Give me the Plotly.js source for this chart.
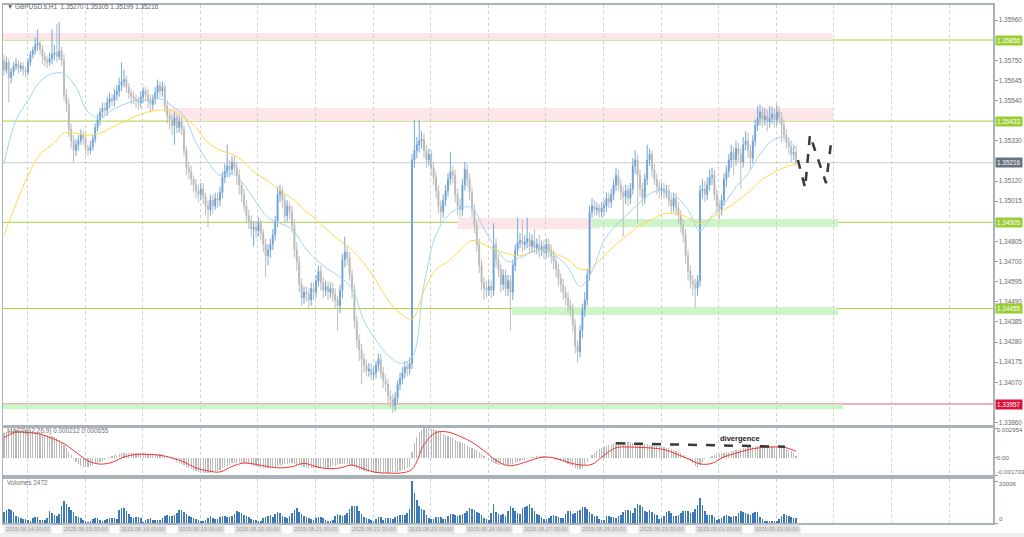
<!DOCTYPE html>
<html><head><meta charset="utf-8">
<script src="https://cdn.plot.ly/plotly-3.0.1.min.js"></script>
<style>html,body{margin:0;padding:0;background:#fff;}#chart{width:1024px;height:537px;}</style>
</head><body><div id="chart"></div>
<script>
const chartTitle = "\u25BC GBPUSD.s,H1  1.35270 1.35305 1.35199 1.35216";
const macdLabel = "MACD(12,26,9) 0.000212 0.000655";
const volumeLabel = "Volumes 2472";

const open = [
1.3575,1.3570,1.3574,1.3566,1.3569,1.3572,1.3573,1.3571,1.3572,1.3570,
1.3569,1.3574,1.3578,1.3580,1.3583,1.3584,1.3581,1.3577,1.3575,1.3574,
1.3576,1.3578,1.3579,1.3577,1.3580,1.3575,1.3557,1.3552,1.3539,1.3533,
1.3528,1.3531,1.3533,1.3536,1.3534,1.3529,1.3528,1.3530,1.3534,1.3540,
1.3544,1.3548,1.3550,1.3549,1.3553,1.3555,1.3554,1.3557,1.3559,1.3562,
1.3564,1.3565,1.3561,1.3558,1.3556,1.3555,1.3554,1.3553,1.3556,1.3559,
1.3557,1.3554,1.3552,1.3555,1.3558,1.3562,1.3559,1.3561,1.3551,1.3546,
1.3544,1.3541,1.3545,1.3540,1.3543,1.3539,1.3528,1.3519,1.3517,1.3513,
1.3510,1.3507,1.3505,1.3508,1.3504,1.3499,1.3497,1.3502,1.3499,1.3503,
1.3502,1.3506,1.3514,1.3517,1.3520,1.3518,1.3522,1.3519,1.3515,1.3510,
1.3505,1.3499,1.3494,1.3491,1.3487,1.3488,1.3486,1.3490,1.3485,1.3479,
1.3473,1.3476,1.3479,1.3484,1.3491,1.3505,1.3507,1.3502,1.3494,1.3499,
1.3496,1.3489,1.3476,1.3470,1.3458,1.3451,1.3454,1.3453,1.3450,1.3456,
1.3454,1.3460,1.3465,1.3459,1.3455,1.3457,1.3454,1.3456,1.3453,1.3450,
1.3447,1.3455,1.3471,1.3475,1.3472,1.3463,1.3455,1.3439,1.3429,1.3424,
1.3419,1.3416,1.3413,1.3414,1.3411,1.3412,1.3416,1.3419,1.3412,1.3408,
1.3406,1.3400,1.3398,1.3395,1.3399,1.3406,1.3409,1.3412,1.3415,1.3414,
1.3417,1.3523,1.3528,1.3531,1.3533,1.3534,1.3528,1.3523,1.3526,1.3519,
1.3514,1.3507,1.3499,1.3496,1.3502,1.3507,1.3513,1.3517,1.3515,1.3505,
1.3499,1.3497,1.3510,1.3518,1.3513,1.3506,1.3497,1.3489,1.3479,1.3468,
1.3459,1.3456,1.3455,1.3457,1.3455,1.3479,1.3471,1.3466,1.3458,1.3463,
1.3456,1.3460,1.3454,1.3468,1.3476,1.3480,1.3481,1.3479,1.3480,1.3482,
1.3478,1.3481,1.3477,1.3479,1.3476,1.3478,1.3475,1.3479,1.3476,1.3473,
1.3470,1.3466,1.3461,1.3458,1.3454,1.3451,1.3447,1.3445,1.3437,1.3426,
1.3423,1.3434,1.3445,1.3450,1.3463,1.3496,1.3499,1.3497,1.3498,1.3496,
1.3498,1.3499,1.3503,1.3501,1.3505,1.3510,1.3515,1.3510,1.3506,1.3504,
1.3507,1.3503,1.3508,1.3520,1.3523,1.3515,1.3508,1.3503,1.3513,1.3523,
1.3526,1.3518,1.3513,1.3509,1.3507,1.3508,1.3506,1.3507,1.3502,1.3499,
1.3503,1.3498,1.3494,1.3489,1.3484,1.3473,1.3465,1.3460,1.3458,1.3456,
1.3460,1.3507,1.3508,1.3505,1.3510,1.3514,1.3515,1.3505,1.3499,1.3497,
1.3502,1.3513,1.3517,1.3523,1.3527,1.3523,1.3529,1.3526,1.3522,1.3531,
1.3533,1.3528,1.3524,1.3533,1.3541,1.3545,1.3548,1.3544,1.3546,1.3543,
1.3545,1.3547,1.3544,1.3548,1.3545,1.3541,1.3536,1.3532,1.3530,1.3526,
1.35270];

const high = [
1.3578,1.3577,1.3576,1.3571,1.3574,1.3576,1.3575,1.3574,1.3574,1.3572,
1.3576,1.3580,1.3582,1.3587,1.3591,1.3585,1.3583,1.3579,1.3577,1.3579,
1.3591,1.3583,1.3594,1.3595,1.3582,1.3578,1.3560,1.3555,1.3542,1.3536,
1.3534,1.3536,1.3539,1.3538,1.3536,1.3531,1.3533,1.3536,1.3542,1.3547,
1.3550,1.3553,1.3553,1.3556,1.3558,1.3557,1.3560,1.3562,1.3566,1.3574,
1.3570,1.3567,1.3563,1.3560,1.3559,1.3557,1.3556,1.3559,1.3561,1.3561,
1.3560,1.3557,1.3557,1.3561,1.3565,1.3564,1.3564,1.3563,1.3554,1.3549,
1.3547,1.3548,1.3547,1.3546,1.3545,1.3541,1.3530,1.3522,1.3520,1.3515,
1.3513,1.3510,1.3511,1.3511,1.3506,1.3502,1.3505,1.3505,1.3506,1.3506,
1.3509,1.3517,1.3521,1.3531,1.3523,1.3525,1.3525,1.3522,1.3518,1.3512,
1.3508,1.3502,1.3497,1.3494,1.3491,1.3491,1.3493,1.3492,1.3487,1.3482,
1.3479,1.3482,1.3487,1.3494,1.3509,1.3510,1.3509,1.3505,1.3502,1.3501,
1.3499,1.3492,1.3480,1.3473,1.3461,1.3457,1.3457,1.3456,1.3459,1.3459,
1.3463,1.3468,1.3468,1.3462,1.3460,1.3460,1.3459,1.3459,1.3456,1.3452,
1.3458,1.3474,1.3483,1.3478,1.3475,1.3466,1.3458,1.3442,1.3432,1.3427,
1.3422,1.3419,1.3417,1.3417,1.3415,1.3418,1.3422,1.3422,1.3415,1.3411,
1.3409,1.3403,1.3401,1.3402,1.3408,1.3412,1.3415,1.3418,1.3418,1.3420,
1.3526,1.3544,1.3535,1.3544,1.3538,1.3537,1.3531,1.3529,1.3528,1.3522,
1.3517,1.3510,1.3502,1.3505,1.3510,1.3516,1.3527,1.3520,1.3518,1.3508,
1.3503,1.3513,1.3522,1.3521,1.3516,1.3509,1.3500,1.3492,1.3482,1.3471,
1.3462,1.3460,1.3461,1.3460,1.3490,1.3482,1.3474,1.3469,1.3466,1.3466,
1.3463,1.3463,1.3471,1.3479,1.3493,1.3485,1.3492,1.3484,1.3493,1.3485,
1.3484,1.3487,1.3482,1.3484,1.3481,1.3481,1.3482,1.3482,1.3479,1.3476,
1.3473,1.3469,1.3464,1.3461,1.3457,1.3454,1.3450,1.3448,1.3440,1.3429,
1.3437,1.3448,1.3454,1.3466,1.3499,1.3503,1.3502,1.3501,1.3500,1.3501,
1.3502,1.3506,1.3506,1.3508,1.3513,1.3519,1.3518,1.3513,1.3509,1.3510,
1.3510,1.3511,1.3524,1.3528,1.3526,1.3518,1.3511,1.3516,1.3531,1.3529,
1.3528,1.3521,1.3516,1.3512,1.3511,1.3511,1.3510,1.3510,1.3505,1.3506,
1.3506,1.3501,1.3497,1.3492,1.3487,1.3476,1.3468,1.3463,1.3461,1.3463,
1.3510,1.3513,1.3512,1.3514,1.3518,1.3519,1.3518,1.3508,1.3502,1.3505,
1.3516,1.3520,1.3526,1.3531,1.3530,1.3533,1.3532,1.3529,1.3535,1.3538,
1.3537,1.3531,1.3536,1.3544,1.3551,1.3552,1.3551,1.3550,1.3549,1.3551,
1.3551,1.3550,1.3552,1.3551,1.3548,1.3544,1.3539,1.3535,1.3533,1.3530,
1.35305];

const low = [
1.3567,1.3568,1.3553,1.3563,1.3567,1.3570,1.3568,1.3569,1.3567,1.3566,
1.3567,1.3572,1.3576,1.3578,1.3580,1.3578,1.3573,1.3572,1.3571,1.3572,
1.3573,1.3575,1.3574,1.3575,1.3572,1.3554,1.3548,1.3535,1.3529,1.3522,
1.3525,1.3528,1.3531,1.3531,1.3526,1.3525,1.3526,1.3528,1.3532,1.3538,
1.3541,1.3545,1.3546,1.3546,1.3550,1.3551,1.3551,1.3554,1.3556,1.3559,
1.3561,1.3558,1.3555,1.3552,1.3552,1.3550,1.3549,1.3550,1.3553,1.3554,
1.3550,1.3548,1.3549,1.3552,1.3555,1.3556,1.3556,1.3548,1.3542,1.3539,
1.3536,1.3531,1.3537,1.3537,1.3536,1.3525,1.3515,1.3513,1.3510,1.3506,
1.3503,1.3501,1.3502,1.3500,1.3494,1.3488,1.3494,1.3495,1.3497,1.3498,
1.3499,1.3503,1.3511,1.3514,1.3514,1.3515,1.3516,1.3510,1.3505,1.3501,
1.3496,1.3490,1.3487,1.3483,1.3478,1.3482,1.3483,1.3481,1.3475,1.3462,
1.3468,1.3472,1.3476,1.3481,1.3488,1.3501,1.3498,1.3490,1.3491,1.3492,
1.3485,1.3472,1.3465,1.3454,1.3447,1.3448,1.3449,1.3446,1.3447,1.3450,
1.3451,1.3457,1.3455,1.3451,1.3452,1.3450,1.3451,1.3449,1.3446,1.3434,
1.3443,1.3451,1.3467,1.3468,1.3460,1.3451,1.3435,1.3425,1.3418,1.3406,
1.3412,1.3410,1.3410,1.3408,1.3408,1.3409,1.3413,1.3409,1.3404,1.3402,
1.3396,1.3394,1.3391,1.3392,1.3396,1.3403,1.3406,1.3409,1.3410,1.3411,
1.3414,1.3519,1.3524,1.3527,1.3529,1.3524,1.3519,1.3520,1.3515,1.3510,
1.3503,1.3495,1.3490,1.3493,1.3499,1.3504,1.3510,1.3511,1.3501,1.3494,
1.3493,1.3494,1.3507,1.3509,1.3502,1.3493,1.3485,1.3475,1.3464,1.3455,
1.3450,1.3451,1.3452,1.3451,1.3452,1.3467,1.3462,1.3454,1.3455,1.3452,
1.3452,1.3434,1.3450,1.3465,1.3473,1.3477,1.3475,1.3476,1.3477,1.3474,
1.3475,1.3474,1.3474,1.3472,1.3473,1.3471,1.3472,1.3472,1.3469,1.3466,
1.3462,1.3457,1.3454,1.3450,1.3447,1.3443,1.3441,1.3433,1.3422,1.3417,
1.3420,1.3430,1.3441,1.3447,1.3460,1.3493,1.3494,1.3494,1.3493,1.3493,
1.3494,1.3496,1.3498,1.3498,1.3502,1.3507,1.3507,1.3502,1.3483,1.3500,
1.3499,1.3500,1.3505,1.3516,1.3490,1.3504,1.3499,1.3500,1.3510,1.3520,
1.3514,1.3510,1.3505,1.3503,1.3504,1.3503,1.3503,1.3499,1.3495,1.3496,
1.3494,1.3490,1.3485,1.3480,1.3469,1.3460,1.3456,1.3452,1.3446,1.3452,
1.3457,1.3503,1.3501,1.3502,1.3507,1.3510,1.3502,1.3495,1.3492,1.3494,
1.3499,1.3509,1.3514,1.3519,1.3515,1.3520,1.3522,1.3508,1.3519,1.3528,
1.3524,1.3518,1.3521,1.3530,1.3538,1.3541,1.3540,1.3541,1.3538,1.3540,
1.3542,1.3540,1.3541,1.3542,1.3532,1.3533,1.3529,1.3526,1.3522,1.3523,
1.35199];

const close = [
1.3570,1.3574,1.3566,1.3569,1.3572,1.3573,1.3571,1.3572,1.3570,1.3569,
1.3574,1.3578,1.3580,1.3583,1.3584,1.3581,1.3577,1.3575,1.3574,1.3576,
1.3578,1.3579,1.3577,1.3580,1.3575,1.3557,1.3552,1.3539,1.3533,1.3528,
1.3531,1.3533,1.3536,1.3534,1.3529,1.3528,1.3530,1.3534,1.3540,1.3544,
1.3548,1.3550,1.3549,1.3553,1.3555,1.3554,1.3557,1.3559,1.3562,1.3564,
1.3565,1.3561,1.3558,1.3556,1.3555,1.3554,1.3553,1.3556,1.3559,1.3557,
1.3554,1.3552,1.3555,1.3558,1.3562,1.3559,1.3561,1.3551,1.3546,1.3544,
1.3541,1.3545,1.3540,1.3543,1.3539,1.3528,1.3519,1.3517,1.3513,1.3510,
1.3507,1.3505,1.3508,1.3504,1.3499,1.3497,1.3502,1.3499,1.3503,1.3502,
1.3506,1.3514,1.3517,1.3520,1.3518,1.3522,1.3519,1.3515,1.3510,1.3505,
1.3499,1.3494,1.3491,1.3487,1.3488,1.3486,1.3490,1.3485,1.3479,1.3473,
1.3476,1.3479,1.3484,1.3491,1.3505,1.3507,1.3502,1.3494,1.3499,1.3496,
1.3489,1.3476,1.3470,1.3458,1.3451,1.3454,1.3453,1.3450,1.3456,1.3454,
1.3460,1.3465,1.3459,1.3455,1.3457,1.3454,1.3456,1.3453,1.3450,1.3447,
1.3455,1.3471,1.3475,1.3472,1.3463,1.3455,1.3439,1.3429,1.3424,1.3419,
1.3416,1.3413,1.3414,1.3411,1.3412,1.3416,1.3419,1.3412,1.3408,1.3406,
1.3400,1.3398,1.3395,1.3399,1.3406,1.3409,1.3412,1.3415,1.3414,1.3417,
1.3523,1.3528,1.3531,1.3533,1.3534,1.3528,1.3523,1.3526,1.3519,1.3514,
1.3507,1.3499,1.3496,1.3502,1.3507,1.3513,1.3517,1.3515,1.3505,1.3499,
1.3497,1.3510,1.3518,1.3513,1.3506,1.3497,1.3489,1.3479,1.3468,1.3459,
1.3456,1.3455,1.3457,1.3455,1.3479,1.3471,1.3466,1.3458,1.3463,1.3456,
1.3460,1.3454,1.3468,1.3476,1.3480,1.3481,1.3479,1.3480,1.3482,1.3478,
1.3481,1.3477,1.3479,1.3476,1.3478,1.3475,1.3479,1.3476,1.3473,1.3470,
1.3466,1.3461,1.3458,1.3454,1.3451,1.3447,1.3445,1.3437,1.3426,1.3423,
1.3434,1.3445,1.3450,1.3463,1.3496,1.3499,1.3497,1.3498,1.3496,1.3498,
1.3499,1.3503,1.3501,1.3505,1.3510,1.3515,1.3510,1.3506,1.3504,1.3507,
1.3503,1.3508,1.3520,1.3523,1.3515,1.3508,1.3503,1.3513,1.3523,1.3526,
1.3518,1.3513,1.3509,1.3507,1.3508,1.3506,1.3507,1.3502,1.3499,1.3503,
1.3498,1.3494,1.3489,1.3484,1.3473,1.3465,1.3460,1.3458,1.3456,1.3460,
1.3507,1.3508,1.3505,1.3510,1.3514,1.3515,1.3505,1.3499,1.3497,1.3502,
1.3513,1.3517,1.3523,1.3527,1.3523,1.3529,1.3526,1.3522,1.3531,1.3533,
1.3528,1.3524,1.3533,1.3541,1.3545,1.3548,1.3544,1.3546,1.3543,1.3545,
1.3547,1.3544,1.3548,1.3545,1.3541,1.3536,1.3532,1.3530,1.3526,1.3527,
1.35216];

const volume = [
5090,6360,6680,6360,5250,3500,2700,2230,2070,1750,
1270,950,2230,2860,2700,1590,1430,1430,2390,5570,
4770,3660,3180,4450,7950,10340,8900,7630,6360,5410,
3500,2700,2230,1590,800,640,950,1910,2230,2230,
1590,950,1270,2070,2390,2540,2540,2070,6360,7310,
7160,5720,4130,2860,2390,2700,3020,2540,480,1270,
1910,2230,1270,1430,1590,1430,2390,3180,3820,3180,
3500,3980,4770,6040,6040,5250,4130,3500,2860,2390,
1750,1270,1110,800,1430,2390,3500,2540,1910,1910,
2700,3500,3340,3020,2700,3500,4450,5570,5250,4610,
3820,3180,2700,2070,1590,1430,1110,800,2390,2860,
3500,3820,2700,4450,5410,4770,3500,2860,2540,3180,
4770,6360,7160,5090,4130,3500,2860,2230,1750,1430,
2230,2860,3020,2390,1430,950,800,1430,3500,4450,
3660,3340,3660,4770,6680,7950,8270,7950,5720,4290,
3020,2390,1910,1270,950,2070,2860,2860,1590,2230,
2540,2540,2070,2700,3180,3660,3660,3980,4770,6680,
20006,14310,10810,7950,6840,6040,3980,2540,1910,1750,
2700,3020,2860,1750,2070,3180,4130,4450,3820,3340,
3660,4290,4770,5570,7160,6680,6040,5250,4610,3660,
2540,1750,1590,4770,9220,5410,4130,3820,4130,3180,
5570,7950,7160,5880,4930,4130,7160,7790,8110,9060,
7160,5570,4450,3820,2860,2070,2070,2540,3500,3980,
3180,2700,2540,2540,4450,5570,5880,4450,4770,5570,
6360,7470,7470,6520,5410,4290,3500,3180,1910,1430,
1590,3340,3340,3020,2860,2540,3180,3980,5250,6040,
6200,5570,4770,7160,9220,8430,7630,5720,5090,6200,
5250,4290,3660,1910,2230,3180,5090,5570,4770,3500,
3340,3980,4770,5720,5880,5570,4770,5090,6680,8750,
12080,8750,5720,3660,3660,3660,2860,1590,1910,2390,
3180,3980,3340,2860,3180,3500,4770,5570,5250,4610,
4130,3820,4610,5250,5090,2860,1750,1110,950,950,
1110,1110,950,1750,3180,4290,3660,3180,2700,2540,
2472];

const macdHist = [
248e-5,255e-5,262e-5,267e-5,270e-5,272e-5,274e-5,275e-5,276e-5,276e-5,
275e-5,272e-5,266e-5,258e-5,250e-5,242e-5,236e-5,230e-5,224e-5,218e-5,
212e-5,205e-5,196e-5,180e-5,158e-5,130e-5,98e-5,62e-5,25e-5,-12e-5,
-40e-5,-62e-5,-78e-5,-88e-5,-92e-5,-90e-5,-84e-5,-76e-5,-66e-5,-55e-5,
-44e-5,-32e-5,-20e-5,-8e-5,4e-5,14e-5,24e-5,32e-5,38e-5,44e-5,
48e-5,50e-5,51e-5,51e-5,50e-5,49e-5,48e-5,47e-5,45e-5,43e-5,
41e-5,39e-5,38e-5,37e-5,36e-5,33e-5,28e-5,20e-5,10e-5,0,
-12e-5,-26e-5,-40e-5,-52e-5,-63e-5,-75e-5,-88e-5,-100e-5,-112e-5,-124e-5,
-134e-5,-142e-5,-148e-5,-152e-5,-153e-5,-152e-5,-148e-5,-142e-5,-135e-5,-127e-5,
-118e-5,-105e-5,-92e-5,-80e-5,-68e-5,-56e-5,-50e-5,-47e-5,-46e-5,-48e-5,
-52e-5,-58e-5,-64e-5,-70e-5,-78e-5,-86e-5,-93e-5,-98e-5,-101e-5,-103e-5,
-104e-5,-100e-5,-94e-5,-88e-5,-82e-5,-75e-5,-68e-5,-62e-5,-58e-5,-55e-5,
-55e-5,-60e-5,-68e-5,-76e-5,-84e-5,-90e-5,-95e-5,-99e-5,-101e-5,-102e-5,
-102e-5,-101e-5,-101e-5,-100e-5,-99e-5,-97e-5,-92e-5,-86e-5,-78e-5,-70e-5,
-62e-5,-58e-5,-60e-5,-66e-5,-74e-5,-84e-5,-95e-5,-106e-5,-116e-5,-124e-5,
-130e-5,-136e-5,-141e-5,-145e-5,-148e-5,-150e-5,-151e-5,-152e-5,-152e-5,-151e-5,
-150e-5,-148e-5,-145e-5,-141e-5,-136e-5,-130e-5,-124e-5,-116e-5,-104e-5,-90e-5,
60e-5,150e-5,210e-5,255e-5,280e-5,292e-5,295e-5,294e-5,288e-5,282e-5,
275e-5,266e-5,254e-5,240e-5,228e-5,216e-5,204e-5,192e-5,180e-5,168e-5,
157e-5,146e-5,134e-5,122e-5,111e-5,100e-5,88e-5,74e-5,58e-5,40e-5,
20e-5,0,-20e-5,-38e-5,-52e-5,-62e-5,-68e-5,-72e-5,-73e-5,-72e-5,
-70e-5,-66e-5,-60e-5,-52e-5,-44e-5,-35e-5,-26e-5,-17e-5,-8e-5,0,
8e-5,13e-5,16e-5,18e-5,17e-5,14e-5,10e-5,4e-5,-2e-5,-9e-5,
-17e-5,-25e-5,-33e-5,-42e-5,-51e-5,-62e-5,-72e-5,-84e-5,-96e-5,-106e-5,
-110e-5,-100e-5,-75e-5,-40e-5,0,30e-5,50e-5,68e-5,84e-5,98e-5,
110e-5,120e-5,130e-5,140e-5,148e-5,155e-5,158e-5,160e-5,160e-5,158e-5,
155e-5,152e-5,150e-5,148e-5,145e-5,142e-5,139e-5,136e-5,133e-5,130e-5,
128e-5,125e-5,121e-5,117e-5,112e-5,107e-5,100e-5,93e-5,86e-5,78e-5,
70e-5,58e-5,45e-5,30e-5,12e-5,-8e-5,-30e-5,-55e-5,-80e-5,-100e-5,
-70e-5,-40e-5,-15e-5,0,12e-5,22e-5,30e-5,36e-5,41e-5,46e-5,
50e-5,55e-5,60e-5,65e-5,70e-5,75e-5,82e-5,88e-5,94e-5,100e-5,
105e-5,108e-5,111e-5,114e-5,116e-5,117e-5,118e-5,118e-5,118e-5,117e-5,
117e-5,116e-5,112e-5,107e-5,101e-5,95e-5,88e-5,78e-5,66e-5,50e-5,
0.000212];

const sampleBars = [0,5,10,15,20,25,30,35,40,45,50,55,60,65,70,75,80,85,90,95,100,105,110,115,120,125,130,135,140,145,150,155,160,165,170,175,180,185,190,195,200,205,210,215,220,225,230,235,240,245,250,255,260,265,270,275,280,285,290,295,300,305,310,315,320,325,330];

const macdSignal = [200e-5,255e-5,250e-5,235e-5,193e-5,140e-5,55e-5,-30e-5,-62e-5,-45e-5,8e-5,33e-5,35e-5,25e-5,0,-42e-5,-100e-5,-130e-5,-140e-5,-85e-5,-52e-5,-65e-5,-88e-5,-100e-5,-88e-5,-55e-5,-88e-5,-108e-5,-100e-5,-72e-5,-110e-5,-145e-5,-151e-5,-151e-5,-115e-5,130e-5,250e-5,255e-5,212e-5,155e-5,70e-5,-25e-5,-78e-5,-60e-5,-20e-5,8e-5,-5e-5,-45e-5,-70e-5,-65e-5,25e-5,100e-5,107e-5,103e-5,97e-5,82e-5,40e-5,-10e-5,-60e-5,-55e-5,10e-5,45e-5,80e-5,100e-5,107e-5,105e-5,0.000655];

const maFast = [1.3521,1.3544,1.3554,1.3564,1.3568,1.3568,1.3561,1.3548,1.3545,1.3549,1.3552,1.3554,1.3554,1.3555,1.3551,1.3546,1.3532,1.3522,1.3515,1.3516,1.3510,1.3501,1.3493,1.3490,1.3487,1.3478,1.3471,1.3466,1.3462,1.3456,1.3439,1.3429,1.3421,1.3417,1.3420,1.3458,1.3484,1.3494,1.3498,1.3498,1.3487,1.3477,1.3470,1.3472,1.3475,1.3476,1.3473,1.3467,1.3457,1.3465,1.3481,1.3489,1.3495,1.3501,1.3506,1.3507,1.3504,1.3497,1.3486,1.3494,1.3500,1.3509,1.3516,1.3526,1.3533,1.3535,1.3529];

const maSlow = [1.3484,1.3500,1.3515,1.3526,1.3531,1.3537,1.3537,1.3536,1.3537,1.3540,1.3543,1.3546,1.3548,1.3549,1.3549,1.3545,1.3540,1.3532,1.3528,1.3526,1.3522,1.3516,1.3512,1.3507,1.3503,1.3497,1.3492,1.3486,1.3481,1.3476,1.3469,1.3460,1.3450,1.3443,1.3440,1.3455,1.3466,1.3470,1.3476,1.3481,1.3479,1.3476,1.3474,1.3473,1.3475,1.3476,1.3474,1.3471,1.3466,1.3467,1.3473,1.3479,1.3484,1.3489,1.3492,1.3495,1.3495,1.3493,1.3490,1.3493,1.3497,1.3501,1.3506,1.3512,1.3516,1.3519,1.3521];

const mainTickValues = [1.35960,1.35750,1.35645,1.35540,1.35330,1.35120,1.35015,1.34805,1.34700,1.34595,1.34490,1.34385,1.34280,1.34175,1.34070,1.33860];
const macdTickValues = [0.002954, 0, -0.001703];
const macdTickText = ['0.002954', '0.00', '-0.001703'];
const volumeTickValues = [20006, 0];
const volumeTickText = ['20006', '0'];
const resistanceLevels = [1.35856, 1.35433, 1.34905, 1.34455];
const supportLevel = 1.33957;
const currentPrice = 1.35216;

const zoneStart = [-2, 69, 189, 245, 211.7, -2];
const zoneEnd   = [345, 345.4, 248, 347.5, 347.5, 349.6];
const zoneLow   = [1.35856, 1.35433, 1.34870, 1.34880, 1.34421, 1.33930];
const zoneHigh  = [1.35893, 1.35501, 1.34927, 1.34922, 1.34463, 1.33956];
const zoneKind  = ['supply','supply','supply','demand','demand','demand'];

const dayLabels = ['2025.08.14 00:00','2025.08.15 00:00','2025.08.18 00:00','2025.08.19 00:00','2025.08.20 00:00','2025.08.21 00:00','2025.08.22 00:00','2025.08.25 00:00','2025.08.26 00:00','2025.08.27 00:00','2025.08.28 00:00','2025.08.29 00:00','2025.09.01 00:00','2025.09.02 00:00'];
const dayLabelBars = [0,24,48,72,96,120,144,168,192,216,240,264,288,312];

const forecastBars = [330.8, 333.8, 335.8, 342.5, 344.6];
const forecastPrices = [1.35230, 1.35084, 1.35361, 1.35110, 1.35319];
const divergenceBars = [255, 325.4];
const divergenceValues = [0.00144, 0.00110];
const divergenceText = 'divergence';

const bars = close.map((_, i) => i);

const FONT = 'Liberation Sans, Arial, sans-serif';
const GRID = {showgrid:true, gridcolor:'#cfcfcf', griddash:'dot', gridwidth:1, tickmode:'linear', tick0:9.8, dtick:24,
  showticklabels:false, ticks:'', zeroline:false, showline:true, mirror:true, linecolor:'#a9b1b9', linewidth:2};

const traces = [
  {type:'candlestick', x:bars, open:open, high:high, low:low, close:close, xaxis:'x', yaxis:'y',
   increasing:{line:{color:'#74a6d8', width:1}, fillcolor:'#3a79b9'},
   decreasing:{line:{color:'#bcbcbc', width:1}, fillcolor:'#9d9d9d'},
   whiskerwidth:0, hoverinfo:'skip'},
  {type:'scatter', mode:'lines', x:sampleBars, y:maSlow, xaxis:'x', yaxis:'y', line:{color:'#ffd84a', width:1, shape:'spline'}, hoverinfo:'skip'},
  {type:'scatter', mode:'lines', x:sampleBars, y:maFast, xaxis:'x', yaxis:'y', line:{color:'#a3d5f0', width:1, shape:'spline'}, hoverinfo:'skip'},
  {type:'scatter', mode:'lines', x:forecastBars, y:forecastPrices, xaxis:'x', yaxis:'y', line:{color:'#3a3a3a', width:2.5, dash:'dash'}, hoverinfo:'skip'},
  {type:'bar', x:bars, y:macdHist, xaxis:'x2', yaxis:'y2', width:0.5, marker:{color:'#bababa', line:{width:0}}, hoverinfo:'skip'},
  {type:'scatter', mode:'lines', x:sampleBars, y:macdSignal, xaxis:'x2', yaxis:'y2', line:{color:'#f23a3a', width:1, shape:'spline'}, hoverinfo:'skip'},
  {type:'scatter', mode:'lines', x:divergenceBars, y:divergenceValues, xaxis:'x2', yaxis:'y2', line:{color:'#3a3a3a', width:2.5, dash:'dash'}, hoverinfo:'skip'},
  {type:'bar', x:bars, y:volume, xaxis:'x3', yaxis:'y3', width:0.7, marker:{color:'#3d79b6', line:{width:0}}, hoverinfo:'skip'}
];

const shapes = [];
zoneKind.forEach((k, i) => {
  shapes.push({type:'rect', layer:'below', xref:'x', yref:'y', x0:zoneStart[i], x1:zoneEnd[i], y0:zoneLow[i], y1:zoneHigh[i],
    fillcolor: k === 'supply' ? '#fde6ea' : '#cdf5c8', line:{width:0}});
});
resistanceLevels.forEach(p => shapes.push({type:'line', layer:'below', xref:'paper', yref:'y', x0:0, x1:1, y0:p, y1:p, line:{color:'#a4d23c', width:1}}));
shapes.push({type:'line', layer:'below', xref:'paper', yref:'y', x0:0, x1:1, y0:currentPrice, y1:currentPrice, line:{color:'#cdcdcd', width:1}});
shapes.push({type:'line', layer:'below', xref:'paper', yref:'y', x0:0, x1:1, y0:supportLevel, y1:supportLevel, line:{color:'#e0607a', width:1}});
shapes.push({type:'rect', layer:'below', xref:'paper', yref:'paper', x0:-3/990, x1:1+31/990, y0:(523-540)/518, y1:(523-533)/518, fillcolor:'#efefef', line:{width:0}});

const annotations = [];
function priceBox(p, bg){
  annotations.push({xref:'paper', yref:'y', x:1, y:p, xanchor:'left', yanchor:'middle', xshift:2, text:p.toFixed(5), showarrow:false,
    bgcolor:bg, borderpad:1, font:{family:FONT, size:6.4, color:'#ffffff'}});
}
resistanceLevels.forEach(p => priceBox(p, '#9acd32'));
priceBox(currentPrice, '#67727e');
priceBox(supportLevel, '#dc143c');

const axFont = {family:FONT, size:6.4, color:'#6a6a6a'};
const subFont = {family:FONT, size:6.1, color:'#6a6a6a'};
const macdLabelShift = [-1, 0, 4];
macdTickValues.forEach((v, i) => annotations.push({xref:'paper', yref:'y2', x:1, y:v, xanchor:'left', yanchor:'middle', xshift:2, yshift:macdLabelShift[i],
  text:macdTickText[i], showarrow:false, font:subFont}));
const volumeLabelShift = [-2, 5];
volumeTickValues.forEach((v, i) => annotations.push({xref:'paper', yref:'y3', x:1, y:v, xanchor:'left', yanchor:'middle', xshift:4, yshift:volumeLabelShift[i],
  text:volumeTickText[i], showarrow:false, font:subFont}));

annotations.push({xref:'paper', yref:'paper', x:0, y:(523-7)/518, xanchor:'left', yanchor:'middle', xshift:2, text:chartTitle, showarrow:false, font:{family:FONT, size:6.4, color:'#606060'}});
annotations.push({xref:'paper', yref:'paper', x:0, y:(523-431)/518, xanchor:'left', yanchor:'middle', xshift:2, text:macdLabel, showarrow:false, font:{family:FONT, size:6.4, color:'#707070'}});
annotations.push({xref:'paper', yref:'paper', x:0, y:(523-482)/518, xanchor:'left', yanchor:'middle', xshift:2, text:volumeLabel, showarrow:false, font:{family:FONT, size:6.4, color:'#707070'}});
annotations.push({xref:'x2', yref:'y2', x:306.5, y:0.00196, xanchor:'center', yanchor:'middle', text:'<b>'+divergenceText+'</b>', showarrow:false, font:{family:FONT, size:7.5, color:'#222222'}});
dayLabels.forEach((t, i) => {
  annotations.push({xref:'x', yref:'paper', x:dayLabelBars[i], y:-6/518, xanchor:'left', yanchor:'middle', text:t, showarrow:false,
    bgcolor:'#e3e3e3', borderpad:1, font:{family:FONT, size:5.6, color:'#a0a0a0'}});
});

const subAxis = {side:'right', tickmode:'array', showticklabels:false, ticks:'outside', ticklen:3, tickcolor:'#999',
  showgrid:false, zeroline:false, showline:true, linecolor:'#a9b1b9', linewidth:1.5, mirror:true};
const layout = {
  width:1024, height:537, margin:{l:3, r:31, t:5, b:14, pad:0},
  paper_bgcolor:'#ffffff', plot_bgcolor:'#ffffff', showlegend:false, hovermode:false,
  boxgap:0.45, bargap:0,
  xaxis: Object.assign({}, GRID, {anchor:'y', range:[-0.417, 412.08], rangeslider:{visible:false}}),
  xaxis2: Object.assign({}, GRID, {anchor:'y2', matches:'x'}),
  xaxis3: Object.assign({}, GRID, {anchor:'y3', matches:'x'}),
  yaxis: {domain:[(523-425)/518, 1], range:[1.338475, 1.360386], side:'right', tickmode:'array', tickvals:mainTickValues,
    ticktext:mainTickValues.map(v => v.toFixed(5)), tickfont:axFont, ticks:'outside', ticklen:3, tickcolor:'#999',
    showgrid:false, zeroline:false, showline:true, linecolor:'#a9b1b9', linewidth:1.5, mirror:true},
  yaxis2: Object.assign({}, subAxis, {domain:[(523-475)/518, (523-428)/518], range:[-0.001703, 0.002954], tickvals:macdTickValues}),
  yaxis3: Object.assign({}, subAxis, {domain:[0, (523-479)/518], range:[0, 20960], tickvals:volumeTickValues}),
  shapes: shapes, annotations: annotations
};

Plotly.newPlot('chart', traces, layout, {staticPlot:true, displayModeBar:false});
</script></body></html>
